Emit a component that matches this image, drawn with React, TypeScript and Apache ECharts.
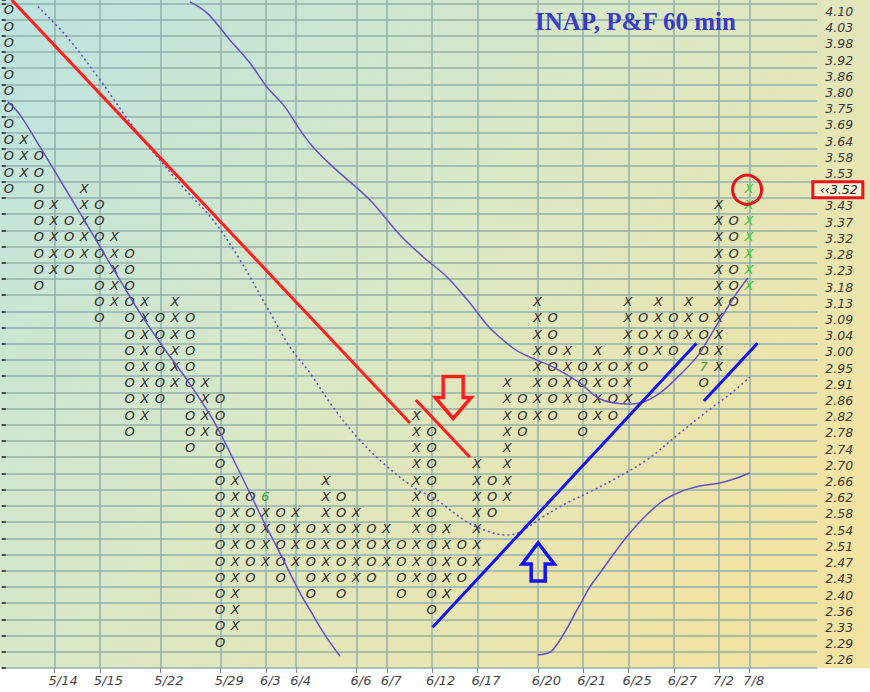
import React, { useEffect, useRef } from 'react';
import * as echarts from 'echarts';

// ---- data ----
const priceLabels = ['4.10','4.03','3.98','3.92','3.86','3.80','3.75','3.69','3.64','3.58','3.53','3.48','3.43','3.37','3.32','3.28','3.23','3.18','3.13','3.09','3.04','3.00','2.95','2.91','2.86','2.82','2.78','2.74','2.70','2.66','2.62','2.58','2.54','2.51','2.47','2.43','2.40','2.36','2.33','2.29','2.26'];
const lastPrice = '3.52';
const lastPriceRow = '3.48';
const firstColumnKind = 'O';
const columnTops = ['4.10','3.64','3.58','3.43','3.37','3.48','3.43','3.32','3.28','3.13','3.09','3.13','3.09','2.91','2.86','2.66','2.62','2.62','2.58','2.58','2.54','2.66','2.62','2.58','2.54','2.54','2.51','2.82','2.78','2.54','2.51','2.70','2.66','2.91','2.86','3.13','3.09','3.00','2.95','3.00','2.95','3.13','3.09','3.13','3.09','3.13','3.09','3.43','3.37','3.48'];
const columnBottoms = ['3.48','3.53','3.18','3.23','3.23','3.28','3.09','3.13','2.78','2.82','2.86','2.91','2.74','2.78','2.29','2.33','2.43','2.47','2.43','2.47','2.40','2.43','2.40','2.43','2.43','2.47','2.40','2.43','2.36','2.40','2.43','2.47','2.58','2.62','2.78','2.82','2.82','2.86','2.78','2.82','2.82','2.86','2.95','3.00','3.00','3.04','2.91','2.95','3.13','3.18'];
const liveColumn = 49;
const monthMarks = [
  { col: 17, price: '2.62', text: '6' },
  { col: 46, price: '2.95', text: '7' },
];
const totalColumns = 54;
const dateColumns = [3, 6, 10, 14, 17, 19, 23, 25, 28, 31, 35, 38, 41, 44, 47, 49];
const dateLabels = ['5/14','5/15','5/22','5/29','6/3','6/4','6/6','6/7','6/12','6/17','6/20','6/21','6/25','6/27','7/2','7/8'];

// trend lines / bands in chart units [column, row-from-bottom]
const redTrendLong = [[0.66, 41.21], [27.03, 15.11]];
const redTrendShort = [[27.42, 16.53], [31.0, 13.0]];
const blueTrendLong = [[28.53, 2.51], [46.0, 20.03]];
const blueTrendShort = [[46.49, 16.47], [50.04, 20.03]];
const lowerBandLeft = [[0.42,34.92],[1.21,34.12],[2.54,32.14],[3.86,30.10],[5.18,28.07],[6.51,25.97],[7.83,23.93],[9.15,21.90],[10.68,19.80],[12.27,17.77],[13.99,15.30],[15.78,12.03],[17.30,9.13],[18.42,7.09],[19.75,4.63],[20.41,3.58],[21.40,2.04],[22.39,0.74]];
const upperBand = [[12.46,41.09],[13.59,40.41],[15.11,38.74],[16.44,37.32],[17.56,35.84],[18.75,34.61],[19.75,33.19],[20.61,32.14],[21.93,30.91],[24.38,28.87],[26.37,26.71],[27.89,25.37],[29.48,24.12],[31.0,22.52],[32.32,20.97],[33.85,19.74],[34.64,19.31],[36.49,18.57],[38.28,17.58],[39.61,16.59],[41.39,16.29],[42.25,16.35],[43.58,16.96],[44.90,18.08],[46.03,19.19],[46.75,20.23],[47.55,21.47],[48.67,23.13],[49.40,24.06]];
const middleBand = [[2.40,40.80],[4.32,38.93],[6.51,36.27],[8.96,33.07],[12.0,29.67],[13.99,27.64],[15.78,25.17],[17.56,22.27],[19.08,19.80],[20.41,18.20],[21.93,16.10],[23.52,14.25],[25.24,12.65],[27.23,11.17],[28.81,10.36],[30.80,9.01],[32.32,8.39],[33.45,8.20],[34.31,8.39],[35.83,9.32],[37.42,10.18],[38.94,10.86],[40.46,11.60],[42.71,12.83],[44.90,14.50],[47.08,16.10],[48.41,17.03],[49.53,17.95]];
const lowerBandRight = [[35.50,0.80],[36.49,1.11],[38.28,3.89],[38.94,5.0],[39.61,5.86],[41.59,8.33],[43.58,10.18],[44.90,10.86],[46.22,11.23],[47.55,11.41],[48.67,11.72],[49.53,12.03]];
const annotations = [
  { kind: 'down', x: 29.89, y: 15.39 },
  { kind: 'up', x: 35.52, y: 7.71 },
  { kind: 'circle', x: 49.35, y: 29.5 },
  { kind: 'box', x: 55.36, y: 29.5 },
];

const ROWS = priceLabels.length;
const TOP = ROWS + 0.2036;
const GRID_COLOR = '#93b0ac';

export default function App() {
  const ref = useRef<HTMLDivElement>(null);
  useEffect(() => {
    const chart = echarts.init(ref.current!, null, { renderer: 'svg' });
    const rowOf = (p: string) => priceLabels.indexOf(p);
    const yOf = (r: number) => ROWS - 1 - r + 0.5;
    const cells: { x: number; y: number; text: string; color: string }[] = [];
    columnTops.forEach((top, c) => {
      const r0 = rowOf(top);
      const r1 = rowOf(columnBottoms[c]);
      const kind = (c % 2 === 0) === (firstColumnKind === 'O') ? 'O' : 'X';
      for (let r = r0; r <= r1; r++) {
        const mark = monthMarks.find((m) => m.col === c && rowOf(m.price) === r);
        cells.push({
          x: c + 0.5,
          y: yOf(r),
          text: mark ? mark.text : kind,
          color: mark ? '#3f9d3f' : c === liveColumn ? '#35c935' : '#2e2e2e',
        });
      }
    });

    const purple = '#6650c6';
    const lineSeries = (data: number[][], color: string, width: number, smooth: boolean, type: any = 'solid') => ({
      type: 'line',
      data,
      showSymbol: false,
      symbol: 'none',
      smooth: smooth ? 0.35 : false,
      lineStyle: { color, width, type },
      silent: true,
      z: 5,
    });

    const downArrow = [[-10, -42], [10, -42], [10, -21], [18, -21], [0, 0], [-18, -21], [-10, -21]];
    const upArrow = [[0, 0], [16, 21], [7, 21], [7, 38], [-7, 38], [-7, 21], [-16, 21]];

    chart.setOption({
      animation: false,
      grid: { left: 1.7, right: 52.7, top: 0, bottom: 24 },
      graphic: {
        elements: [
          {
            type: 'rect',
            left: 0,
            top: 0,
            z: -100,
            silent: true,
            shape: { width: 870, height: 668 },
            style: {
              fill: new echarts.graphic.LinearGradient(0, 0, 1, 0.7, [
                { offset: 0, color: '#bbe3e0' },
                { offset: 0.5, color: '#d9e8c6' },
                { offset: 1, color: '#f3e3a2' },
              ]),
            },
          },
          {
            type: 'text',
            left: 535,
            top: 9,
            z: 10,
            style: {
              text: 'INAP, P&F 60 min',
              font: 'bold 25px "Liberation Serif", serif',
              fill: '#3b3bc4',
            },
          },
        ],
      },
      xAxis: {
        type: 'value',
        min: 0,
        max: totalColumns,
        interval: 1,
        axisLine: { show: false },
        splitLine: { show: true, lineStyle: { color: GRID_COLOR, width: 1.5 } },
        axisTick: {
          show: true,
          customValues: dateColumns.map((c) => c + 0.5),
          length: 5,
          lineStyle: { color: '#888', width: 1 },
        },
        axisLabel: {
          customValues: dateColumns.map((c) => c + 0.1),
          align: 'left',
          margin: 6,
          color: '#444',
          fontStyle: 'italic',
          fontSize: 13,
          fontFamily: 'DejaVu Sans',
          formatter: (v: number) => {
            const i = dateColumns.findIndex((c) => Math.abs(c + 0.1 - v) < 0.01);
            return i >= 0 ? dateLabels[i] : '';
          },
        },
      },
      yAxis: {
        type: 'value',
        position: 'right',
        min: 0,
        max: TOP,
        interval: 1,
        axisLine: { show: false },
        splitLine: { show: true, showMaxLine: false, lineStyle: { color: GRID_COLOR, width: 1.5 } },
        axisTick: { show: true, length: 4, lineStyle: { color: '#222', width: 1.5 } },
        axisLabel: {
          customValues: priceLabels.map((_, i) => ROWS - 1 - i + 0.5),
          margin: 8,
          color: '#3a3a3a',
          fontStyle: 'italic',
          fontSize: 12.5,
          fontFamily: 'DejaVu Sans',
          formatter: (v: number) => {
            const i = Math.round(ROWS - 0.5 - v);
            const p = priceLabels[i];
            return p === undefined || p === lastPriceRow ? '' : p;
          },
        },
      },
      series: [
        {
          type: 'custom',
          name: 'pf',
          silent: true,
          z: 3,
          data: cells.map((c) => [c.x, c.y]),
          renderItem: (params: any, api: any) => {
            const c = cells[params.dataIndex];
            const p = api.coord([c.x, c.y]);
            return {
              type: 'text',
              x: p[0] - 0.5,
              y: p[1] - 1.5,
              style: {
                text: c.text,
                fill: c.color,
                font: 'italic 13px "DejaVu Sans", sans-serif',
                align: 'center',
                verticalAlign: 'middle',
              },
            };
          },
        },
        lineSeries(lowerBandLeft, purple, 1.5, true),
        lineSeries(upperBand, purple, 1.5, true),
        lineSeries(middleBand, purple, 1.6, true, [2, 3]),
        lineSeries(lowerBandRight, purple, 1.5, true),
        lineSeries(redTrendLong, '#ff1e1e', 3, false),
        lineSeries(redTrendShort, '#ff1e1e', 3, false),
        lineSeries(blueTrendLong, '#1414ee', 3, false),
        lineSeries(blueTrendShort, '#1414ee', 3, false),
        {
          type: 'custom',
          name: 'annotations',
          silent: true,
          clip: false,
          z: 8,
          data: annotations.map((a) => [a.x, a.y]),
          renderItem: (params: any, api: any) => {
            const a = annotations[params.dataIndex];
            const p = api.coord([a.x, a.y]);
            if (a.kind === 'down' || a.kind === 'up') {
              return {
                type: 'polygon',
                x: p[0],
                y: p[1],
                shape: { points: a.kind === 'down' ? downArrow : upArrow },
                style: { fill: 'none', stroke: a.kind === 'down' ? '#ff1e1e' : '#1414ee', lineWidth: 3.5, lineJoin: 'miter' },
              };
            }
            if (a.kind === 'circle') {
              return {
                type: 'circle',
                shape: { cx: p[0], cy: p[1], r: 14.5 },
                style: { fill: 'none', stroke: '#e4141a', lineWidth: 3 },
              };
            }
            return {
              type: 'group',
              children: [
                {
                  type: 'rect',
                  shape: { x: p[0] - 25, y: p[1] - 8, width: 50, height: 16 },
                  style: { fill: '#f6f0d4', stroke: '#e4141a', lineWidth: 3 },
                },
                {
                  type: 'text',
                  x: p[0] + 1,
                  y: p[1],
                  style: {
                    text: '‹‹' + lastPrice,
                    fill: '#222',
                    font: 'italic 12.5px "DejaVu Sans", sans-serif',
                    align: 'center',
                    verticalAlign: 'middle',
                  },
                },
              ],
            };
          },
        },
      ],
    });
    return () => chart.dispose();
  }, []);
  return (
    <div
      ref={ref}
      style={{ position: 'fixed', left: 0, top: 0, width: 870, height: 692, background: '#ffffff' }}
    />
  );
}
